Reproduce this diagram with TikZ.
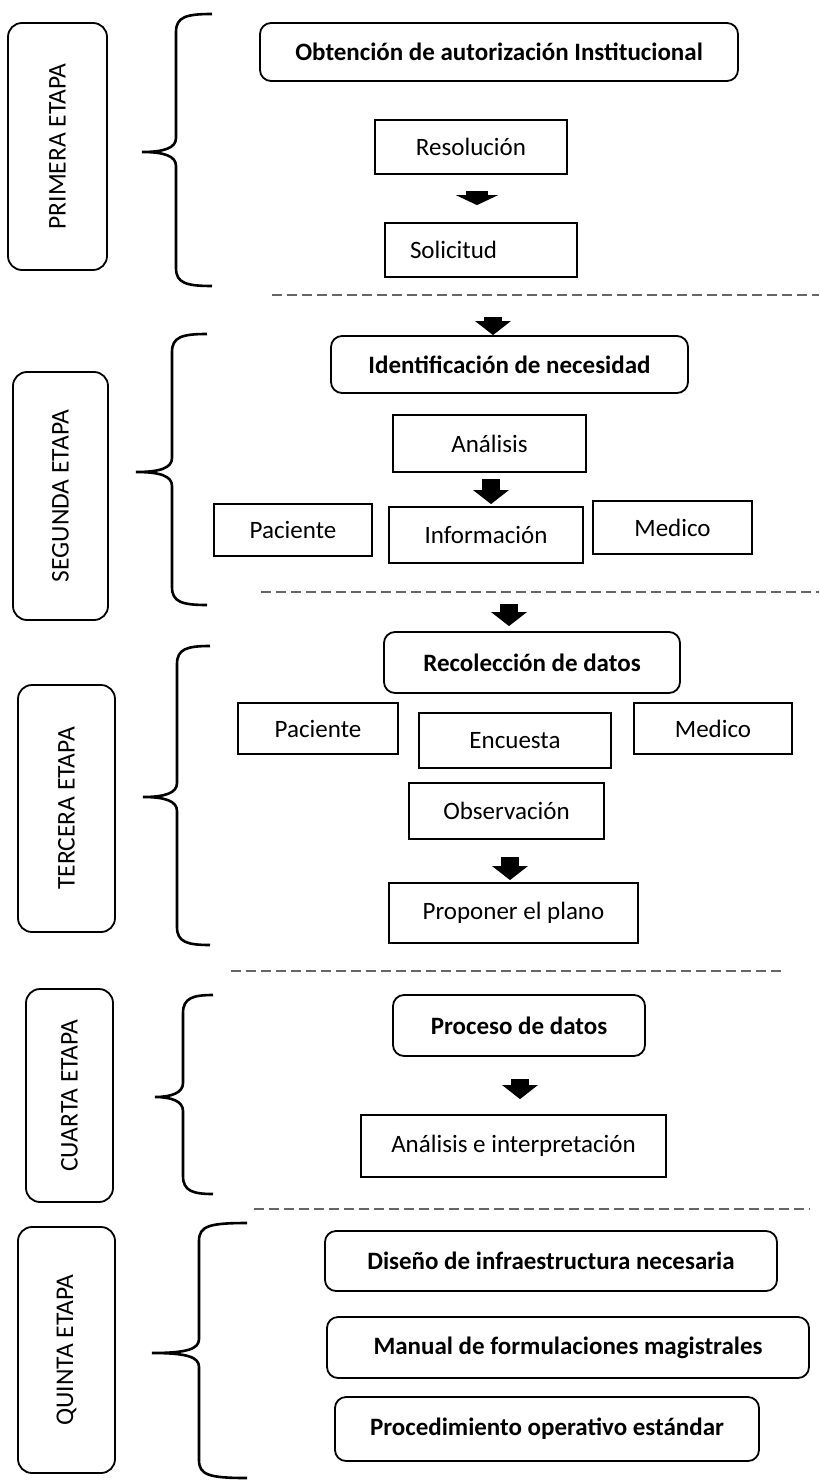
\documentclass[tikz,border=0pt]{standalone}
\usepackage{fontspec}
\setmainfont{Carlito}
\usetikzlibrary{arrows.meta}

\tikzset{
  etapa/.style={draw, line width=1.8pt, rounded corners=14pt, rotate=90, inner sep=0pt,
    font=\fontsize{25.5}{28}\selectfont},
  paso/.style={draw, line width=1.8pt, rounded corners=11pt, inner sep=0pt,
    font=\fontsize{25}{28}\selectfont\bfseries},
  caja/.style={draw, line width=1.8pt, inner sep=0pt, font=\fontsize{25}{28}\selectfont},
  llave/.style={line width=2.6pt},
  corte/.style={line width=1.4pt, black!60, dash pattern=on 10pt off 5pt},
  flecha/.style={line width=18pt, -{Triangle[length=14pt,width=35pt]}},
}

% llave: extremo x, arriba y, eje x, punta x, punta y, abajo y
\newcommand{\llaveetapa}[6]{%
  \draw[llave] (#1,#2) .. controls (#3+10,#2) and (#3,#2+3) .. (#3,#2+18)
    -- (#3,#5-14) .. controls (#3,#5-4) and (#3-12,#5) .. (#4,#5)
    .. controls (#3-12,#5) and (#3,#5+4) .. (#3,#5+14)
    -- (#3,#6-18) .. controls (#3,#6-3) and (#3+10,#6) .. (#1,#6);}

\begin{document}
\begin{tikzpicture}[x=1pt, y=-1pt]
    \useasboundingbox (0,0) rectangle (819,1482);

    % etapas
    \node [etapa, minimum width=247pt, minimum height=99pt] (e1) at (57.5,146.5) {PRIMERA ETAPA};
    \node [etapa, minimum width=248pt, minimum height=95pt] (e2) at (60.5,496) {SEGUNDA ETAPA};
    \node [etapa, minimum width=247pt, minimum height=97pt] (e3) at (66.5,808.5) {TERCERA ETAPA};
    \node [etapa, minimum width=213pt, minimum height=87pt] (e4) at (69.5,1095.5) {CUARTA ETAPA};
    \node [etapa, minimum width=246pt, minimum height=97pt] (e5) at (66.5,1350) {QUINTA ETAPA};

    \llaveetapa{212}{14}{176}{142}{152}{286}
    \llaveetapa{207}{334}{172}{136}{472}{605}
    \llaveetapa{210}{646}{177}{143}{797}{945}
    \llaveetapa{213}{995}{183}{155}{1097}{1194}
    \llaveetapa{247}{1223}{199}{152}{1353}{1478}

    \draw[corte] (272,295) -- (819,295);
    \draw[corte] (261,592) -- (819,592);
    \draw[corte] (231,971) -- (785,971);
    \draw[corte] (254,1209) -- (810,1209);

    % primera etapa
    \node [paso, minimum width=478pt, minimum height=58pt] (obt) at (499,52) {Obtención de autorización Institucional};
    \node [caja, minimum width=192pt, minimum height=54pt] (res) at (471,147) {Resolución};
    \node [caja, minimum height=54pt, text width=142pt, align=left, inner xsep=25pt] (sol) at (481,250) {Solicitud};

    % segunda etapa
    \node [paso, minimum width=357pt, minimum height=57pt] (idn) at (509.5,364.5) {Identificación de necesidad};
    \node [caja, minimum width=193pt, minimum height=57pt] (ana) at (489.5,443.5) {Análisis};
    \node [caja, minimum width=158pt, minimum height=52pt] (pac1) at (293,530) {Paciente};
    \node [caja, minimum width=194pt, minimum height=56pt] (inf) at (486,535) {Información};
    \node [caja, minimum width=159pt, minimum height=53pt] (med1) at (672.5,527.5) {Medico};

    % tercera etapa
    \node [paso, minimum width=296pt, minimum height=61pt] (rec) at (532,662.5) {Recolección de datos};
    \node [caja, minimum width=160pt, minimum height=51pt] (pac2) at (318,728.5) {Paciente};
    \node [caja, minimum width=192pt, minimum height=55pt] (enc) at (515,740.5) {Encuesta};
    \node [caja, minimum width=158pt, minimum height=51pt] (med2) at (713,728.5) {Medico};
    \node [caja, minimum width=195pt, minimum height=56pt] (obs) at (506.5,811) {Observación};
    \node [caja, minimum width=249pt, minimum height=60pt] (pro) at (513.5,913) {Proponer el plano};

    % cuarta etapa
    \node [paso, minimum width=252pt, minimum height=61pt] (prc) at (519,1025.5) {Proceso de datos};
    \node [caja, minimum width=305pt, minimum height=62pt] (aei) at (513.5,1146) {Análisis e interpretación};

    % quinta etapa
    \node [paso, minimum width=452pt, minimum height=60pt] (dis) at (551,1261) {Diseño de infraestructura necesaria};
    \node [paso, minimum width=482pt, minimum height=61pt] (man) at (568,1347.5) {Manual de formulaciones magistrales};
    \node [paso, minimum width=424pt, minimum height=64pt] (pod) at (547,1429) {Procedimiento operativo estándar};

    % flechas
    \draw[flecha, line width=22pt, -{Triangle[length=10pt,width=42pt]}] ([xshift=6pt,yshift=-16pt]res.south) -- ([xshift=-4pt,yshift=17pt]sol.north);
    \draw[flecha] ([xshift=-16.5pt,yshift=18pt]idn.north) -- ([xshift=-16.5pt]idn.north);
    \draw[flecha] ([xshift=1.5pt,yshift=-6pt]ana.south) -- ([xshift=5pt,yshift=2pt]inf.north);
    \draw[flecha] ([xshift=-23pt,yshift=27pt]rec.north) -- ([xshift=-23pt,yshift=5pt]rec.north);
    \draw[flecha] ([xshift=3.5pt,yshift=-17pt]obs.south) -- ([xshift=-3.5pt,yshift=2pt]pro.north);
    \draw[flecha] ([xshift=1pt,yshift=-22pt]prc.south) -- ([xshift=6.5pt,yshift=15pt]aei.north);
\end{tikzpicture}
\end{document}
